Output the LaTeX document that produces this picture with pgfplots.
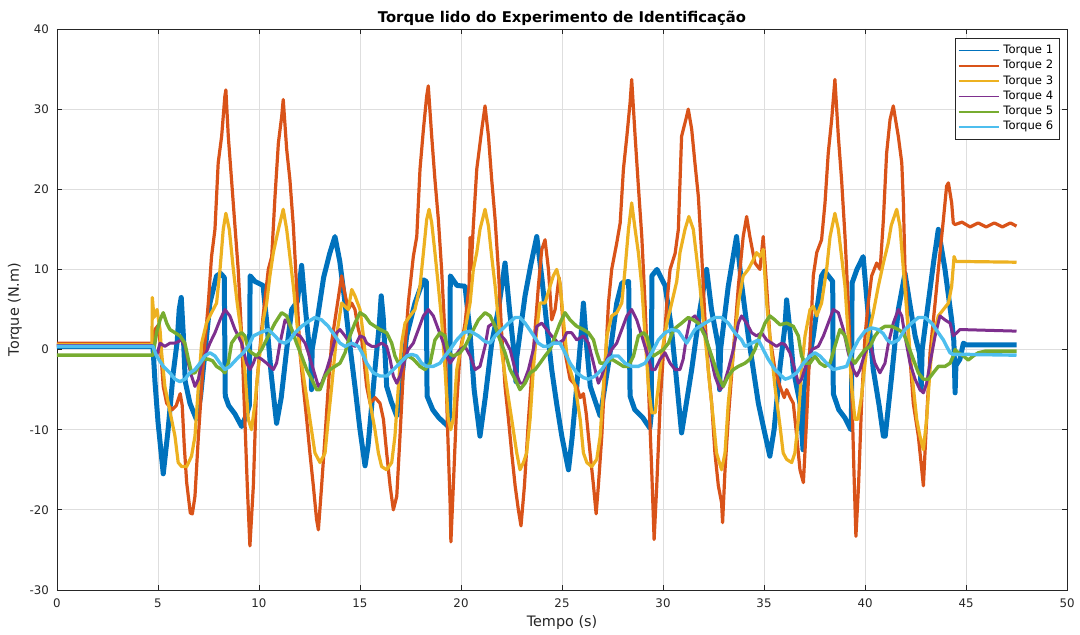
\documentclass[border=0pt]{standalone}
\usepackage{pgfplots}
\pgfplotsset{compat=1.18}
\usepackage{fontspec}
\setmainfont{DejaVu Sans}
\definecolor{tqA}{rgb}{0,0.447,0.741}
\definecolor{tqB}{rgb}{0.85,0.325,0.098}
\definecolor{tqC}{rgb}{0.929,0.694,0.125}
\definecolor{tqD}{rgb}{0.494,0.184,0.556}
\definecolor{tqE}{rgb}{0.466,0.674,0.188}
\definecolor{tqF}{rgb}{0.301,0.745,0.933}
\begin{document}
\begin{tikzpicture}
\useasboundingbox (-28.5pt,-22.5pt) rectangle (511.5pt,295pt);
\begin{axis}[
  at={(0pt,0pt)}, anchor=south west,
  scale only axis, width=505pt, height=280.5pt,
  xmin=0, xmax=50, ymin=-30, ymax=40,
  xtick={0,5,...,50}, ytick={-30,-20,...,40},
  /pgf/number format/assume math mode=true,
  tick label style={font=\fontsize{5.9}{7}\selectfont, text=black!85},
  xticklabel style={yshift=-1pt},
  yticklabel style={xshift=-0.5pt},
  major tick length=2.5pt,
  tick style={black!85, line width=0.4pt},
  axis line style={black!85, line width=0.4pt},
  grid=major, major grid style={black!13, line width=0.4pt},
  xlabel={Tempo (s)}, ylabel={Torque (N.m)},
  label style={font=\fontsize{7.2}{8}\selectfont, text=black!85},
  xlabel style={yshift=3pt},
  ylabel style={yshift=-3pt},
  title={Torque lido do Experimento de Identificação},
  title style={font=\bfseries\fontsize{7.4}{9}\selectfont, yshift=-8pt},
  legend style={at={(0.993,0.984)}, anchor=north east, draw=black!85, line width=0.4pt, fill=white,
    font=\fontsize{5.8}{7}\selectfont, row sep=-2.1pt, inner sep=1.2pt},
  legend cell align=left,
  legend image code/.code={\draw[#1, line width=0.8pt] (0pt,0pt) -- (20pt,0pt);},
  every axis plot/.append style={line join=round},
]
\addplot[color=tqA, line width=2.5pt] coordinates {
(0,0.4) (4.75,0.4) (4.85,-4) (5.0,-9) (5.26,-15.5) (5.5,-10) (5.75,-3) (5.95,1) (6.05,5) (6.15,6.5) (6.25,2) (6.35,-4) (6.58,-6.7) (6.9,-8.7) (7.1,-6) (7.24,-2.5) (7.57,5.8) (7.9,9.2) (8.1,9.5) (8.28,9) (8.33,-5.8) (8.5,-7) (8.8,-8) (9.14,-9.6) (9.4,-8) (9.52,-7) (9.56,9.2) (9.8,8.5) (10.2,8) (10.4,3) (10.6,-3) (10.87,-9.2) (11.1,-6) (11.37,0) (11.62,5) (11.9,6) (12.11,10.5) (12.3,5) (12.5,0) (12.58,-1.5) (12.6,-5) (12.63,0) (12.9,4) (13.2,9) (13.5,12) (13.76,14.1) (14.0,11) (14.26,5.8) (14.5,0.5) (14.75,-4.6) (15.0,-10) (15.25,-14.5) (15.4,-12) (15.74,-2.5) (15.95,3) (16.05,6.7) (16.15,4) (16.32,-4.6) (16.55,-6.5) (16.82,-8.3) (17.05,-4) (17.31,1.7) (17.72,5.8) (18.14,8.7) (18.28,8.5) (18.32,-5.8) (18.6,-7.5) (18.9,-8.5) (19.37,-9.6) (19.44,-8) (19.47,9.2) (19.8,8) (20.2,7.9) (20.45,2) (20.65,-5) (20.94,-10.8) (21.2,-6) (21.52,0.8) (21.85,5) (22.18,10.8) (22.4,5) (22.68,-1.7) (22.72,-4) (22.76,-1) (23.17,6.7) (23.45,10.5) (23.75,14.1) (24.0,9) (24.25,3) (24.49,-2.5) (24.75,-7) (24.99,-10.8) (25.32,-15) (25.5,-11) (25.73,-4.6) (25.95,2) (26.06,5.8) (26.2,1) (26.4,-4.6) (26.89,-8.3) (27.1,-5) (27.38,-0.4) (27.71,5.8) (27.96,8.3) (28.3,8.5) (28.37,-5.8) (28.6,-7.5) (29.0,-8.5) (29.35,-9.8) (29.42,-8) (29.45,9.2) (29.7,10) (30.1,8) (30.4,3) (30.6,-2) (30.92,-10.4) (31.2,-6) (31.42,-2.5) (31.83,5) (32.16,10) (32.4,5) (32.74,0.4) (32.8,-5) (32.85,0) (33.23,7.9) (33.64,14.1) (33.9,8) (34.22,1.7) (34.72,-6.7) (35.0,-10) (35.29,-13.3) (35.5,-10) (35.8,-2) (36.04,3) (36.12,6.2) (36.3,2) (36.45,-2.5) (36.78,-6.7) (36.93,-12.5) (36.98,-5) (37.44,1.7) (37.85,9.2) (38.0,9.8) (38.4,8.5) (38.43,-5.5) (38.7,-7.5) (39.0,-8.5) (39.3,-10) (39.33,-8) (39.36,8.3) (39.6,10) (39.91,11.6) (40.1,6) (40.41,-2.5) (40.7,-7) (40.91,-10.8) (41.0,-10.8) (41.32,-3.3) (41.65,5) (41.98,9.5) (42.2,6) (42.48,1.7) (42.7,-0.5) (42.78,-5) (42.83,0) (43.13,5.8) (43.4,11) (43.63,15) (43.96,10) (44.29,3.7) (44.4,1) (44.46,-5.4) (44.5,-2) (44.7,-1.2) (44.87,0.8) (45.0,0.6) (47.5,0.6)
};
\addlegendentry{Torque 1}
\addplot[color=tqB, line width=1.6pt] coordinates {
(0,0.8) (4.75,0.8) (4.85,2.5) (5.0,3) (5.1,1) (5.26,-4.6) (5.43,-6.7) (5.7,-7.5) (5.9,-7) (6.1,-5.5) (6.2,-7) (6.3,-12) (6.42,-16.6) (6.6,-20.4) (6.7,-20.5) (6.83,-18.3) (7.0,-10.8) (7.24,-1.7) (7.49,5.8) (7.65,11.6) (7.82,15) (7.98,23.3) (8.15,26.6) (8.31,31.6) (8.36,32.4) (8.48,26.6) (8.64,21.2) (8.81,15.4) (8.97,10) (9.14,1.7) (9.3,-8.7) (9.42,-17) (9.55,-24.5) (9.72,-17) (9.88,-4.6) (10.13,2.5) (10.46,10) (10.63,11.6) (10.79,19) (10.96,25.8) (11.12,29) (11.2,31.2) (11.37,25) (11.53,21.2) (11.7,15.4) (11.86,7.9) (12.03,-0.4) (12.19,-4.6) (12.36,-8.7) (12.52,-12.9) (12.69,-17) (12.85,-21.2) (12.94,-22.5) (13.1,-17) (13.27,-10.8) (13.43,-4.6) (13.6,1.0) (13.84,5) (14.09,9.2) (14.25,7) (14.42,5) (14.59,5.8) (14.75,5) (14.92,2.5) (15.1,1) (15.33,-4.6) (15.5,-6.7) (15.75,-6) (15.99,-6.7) (16.16,-8.7) (16.32,-12.9) (16.49,-17) (16.65,-20) (16.82,-18.3) (16.98,-10.8) (17.15,-2.5) (17.39,5.8) (17.64,11.6) (17.81,14.1) (17.97,22.5) (18.14,27.5) (18.3,31.6) (18.38,32.9) (18.55,26.6) (18.71,21.2) (18.88,16.2) (19.04,10) (19.21,1.7) (19.32,-8.7) (19.46,-19.1) (19.5,-24) (19.62,-17) (19.79,-6.7) (19.95,-0.4) (20.2,3.3) (20.4,8) (20.45,14) (20.5,10) (20.6,15) (20.78,22.5) (21.03,27.5) (21.19,30.4) (21.36,26.6) (21.52,21.2) (21.69,16.2) (21.85,10) (22.02,1.7) (22.18,-4.6) (22.35,-8.7) (22.51,-12.9) (22.68,-17) (22.84,-20) (22.97,-22) (23.14,-17) (23.34,-8.7) (23.58,-0.4) (23.83,7.9) (24.0,12.5) (24.16,13.7) (24.33,10) (24.49,3.7) (24.66,5) (24.85,9) (24.92,7.9) (25.15,-0.4) (25.4,-3.7) (25.73,-4.6) (25.9,-6) (26.06,-5.5) (26.2,-8) (26.39,-12.9) (26.56,-17) (26.69,-20.5) (26.8,-17) (26.97,-10.8) (27.13,-2.5) (27.3,5.8) (27.46,10) (27.71,13.3) (27.88,15.8) (28.04,22.5) (28.21,26.6) (28.37,30.8) (28.45,33.7) (28.62,26.6) (28.78,20.4) (28.95,14.1) (29.11,5.8) (29.28,-4.6) (29.44,-15) (29.56,-23.7) (29.69,-17) (29.86,-6.7) (30.02,-0.4) (30.19,5.8) (30.35,10) (30.6,12) (30.76,15) (30.92,26.6) (31.17,29.1) (31.25,30) (31.42,27.5) (31.58,23.3) (31.75,19.1) (31.91,12.1) (32.08,3.7) (32.24,-2.5) (32.41,-6.7) (32.57,-12.9) (32.74,-17) (32.9,-19.1) (32.95,-21.6) (33.07,-15) (33.23,-8.7) (33.48,-0.4) (33.73,7.9) (33.97,14.1) (34.14,16.6) (34.3,14.1) (34.55,10.8) (34.8,10) (34.96,14.1) (35.13,7.9) (35.29,1.7) (35.54,-2.5) (35.79,-4.6) (36.0,-6) (36.12,-5) (36.3,-6) (36.45,-6.7) (36.62,-10.8) (36.78,-15) (36.95,-16.6) (37.11,-8.7) (37.28,0.8) (37.44,9.2) (37.61,12.1) (37.85,13.7) (38.02,18.3) (38.18,24.5) (38.35,28.7) (38.51,33.7) (38.68,26.6) (38.84,21.2) (39.01,14.1) (39.17,5.8) (39.34,-4.6) (39.45,-15) (39.55,-23.3) (39.68,-17) (39.83,-6.7) (40.0,1.7) (40.16,5.8) (40.33,9.2) (40.58,10.8) (40.75,10) (40.91,16.2) (41.07,24.5) (41.24,28.7) (41.4,30.4) (41.65,26.6) (41.82,23.3) (41.9,18.3) (41.98,10) (42.15,1.7) (42.39,-6.7) (42.64,-10.8) (42.81,-15) (42.89,-17) (43.05,-8.7) (43.22,-0.4) (43.47,5.8) (43.63,10) (43.88,16.2) (44.04,20.4) (44.13,20.8) (44.29,18.3) (44.37,15.8) (44.46,15.6) (44.8,15.9) (45.2,15.3) (45.6,15.8) (46.0,15.3) (46.4,15.8) (46.8,15.3) (47.2,15.8) (47.5,15.4)
};
\addlegendentry{Torque 2}
\addplot[color=tqC, line width=1.6pt] coordinates {
(0,0.6) (4.7,0.6) (4.72,6.5) (4.8,4) (4.95,5) (5.1,2.5) (5.18,-0.4) (5.34,-4.6) (5.51,-6.7) (5.67,-8.7) (5.84,-10.8) (6.0,-14.1) (6.17,-14.6) (6.42,-14.6) (6.66,-13.3) (6.83,-10.8) (7.0,-4.6) (7.16,0.8) (7.4,3.3) (7.65,4.6) (7.9,5.8) (8.07,10) (8.23,15) (8.36,17) (8.53,15) (8.73,10) (8.92,5.8) (9.14,1.7) (9.3,-2.5) (9.47,-8.7) (9.63,-10) (9.8,-6.7) (9.96,-2.5) (10.21,3.7) (10.38,5.8) (10.54,9.2) (10.71,12.1) (10.96,15) (11.2,17.5) (11.37,15) (11.53,11.6) (11.7,7.9) (11.86,3.7) (12.03,-0.4) (12.28,-4.6) (12.52,-8.7) (12.77,-12.9) (13.02,-14.1) (13.27,-12.9) (13.43,-8.7) (13.6,-4.6) (13.84,1.7) (14.09,5.8) (14.42,5) (14.59,7.5) (14.75,6.7) (15.0,5) (15.17,1.7) (15.33,-2.5) (15.5,-6.7) (15.74,-10) (15.91,-12.9) (16.07,-14.6) (16.32,-15) (16.57,-14.1) (16.73,-10.8) (16.9,-4.6) (17.06,0.8) (17.23,3.3) (17.48,4.2) (17.72,5) (17.97,7.9) (18.14,12.1) (18.3,16.2) (18.42,17.5) (18.55,15.8) (18.71,12.1) (18.88,7.9) (19.04,3.7) (19.21,-2.5) (19.37,-8.7) (19.49,-10) (19.62,-8.7) (19.79,-2.5) (19.95,-0.4) (20.2,2.5) (20.45,5.8) (20.61,10) (20.78,12.1) (20.94,15) (21.19,17.5) (21.36,15.4) (21.52,11.6) (21.69,7.9) (21.85,3.7) (22.02,-0.4) (22.26,-4.6) (22.51,-8.7) (22.76,-12.9) (22.92,-15) (23.09,-14.1) (23.25,-12.9) (23.42,-8.7) (23.58,-2.5) (23.75,2.5) (23.91,5.8) (24.16,5.8) (24.41,7.9) (24.57,9.2) (24.74,10) (24.9,8.3) (25.07,3.7) (25.23,-0.4) (25.4,-2.5) (25.65,-4.6) (25.9,-8.7) (26.06,-12.9) (26.23,-14.1) (26.47,-14.6) (26.72,-13.7) (26.89,-10.8) (27.05,-4.6) (27.22,1.7) (27.46,4.2) (27.71,4.6) (27.96,5.8) (28.12,10) (28.29,15) (28.45,18.3) (28.62,15) (28.78,12.1) (28.95,7.9) (29.11,1.7) (29.28,-4.6) (29.44,-7.9) (29.61,-7.9) (29.77,-4.6) (29.94,-0.4) (30.19,3.3) (30.43,5.8) (30.68,8.5) (30.84,12.1) (31.09,15) (31.28,16.6) (31.5,15) (31.66,11.6) (31.83,7.9) (31.99,3.7) (32.16,-0.4) (32.32,-4.6) (32.49,-8.7) (32.65,-12.9) (32.9,-15) (33.07,-12.9) (33.23,-6.7) (33.48,-0.4) (33.73,5.8) (33.97,9.2) (34.22,10) (34.47,11.2) (34.63,12.1) (34.8,11.6) (34.96,12.5) (35.13,5.8) (35.29,1.7) (35.54,-4.6) (35.79,-9.5) (35.95,-12.9) (36.12,-13.7) (36.37,-14.1) (36.53,-12.9) (36.7,-8.7) (36.86,-2.5) (37.03,1.7) (37.28,5) (37.44,5.4) (37.61,4.2) (37.85,5.8) (38.1,10) (38.27,14.1) (38.51,17) (38.68,15) (38.84,11.6) (39.01,7.9) (39.17,1.7) (39.34,-4.6) (39.5,-8.7) (39.65,-8.7) (39.83,-5.8) (40.0,-1.7) (40.16,1.7) (40.41,4.6) (40.66,7.9) (40.91,10.8) (41.15,13.3) (41.3,15.5) (41.57,17.5) (41.73,15.4) (41.9,10) (42.06,5) (42.23,-0.4) (42.39,-4.6) (42.56,-8.7) (42.72,-10.8) (42.89,-12.5) (43.05,-8.7) (43.22,-2.5) (43.38,1.7) (43.63,4.2) (43.88,5) (44.13,5.8) (44.29,7.9) (44.41,11.6) (44.5,11) (47.5,10.9)
};
\addlegendentry{Torque 3}
\addplot[color=tqD, line width=1.5pt] coordinates {
(0,0.5) (4.75,0.5) (4.93,-0.8) (5.1,0.8) (5.34,0.4) (5.59,0.8) (5.84,0.8) (6.17,1.2) (6.33,0.4) (6.5,-1.7) (6.66,-3.3) (6.83,-4.6) (7.0,-3.7) (7.16,-1.7) (7.32,-0.8) (7.57,0.8) (7.82,2.1) (8.07,3.7) (8.31,5) (8.56,4.2) (8.81,2.5) (8.97,1.7) (9.14,0.8) (9.39,-1.7) (9.55,-2.5) (9.72,-1.7) (9.85,-0.8) (10.13,-1.2) (10.38,-1.7) (10.71,-2.5) (10.87,-1.7) (11.04,0.8) (11.29,3.7) (11.45,3.3) (11.7,2.1) (12.03,1.7) (12.28,0.8) (12.44,-0.4) (12.69,-2.5) (12.94,-4.6) (13.1,-4.2) (13.35,-2.5) (13.6,-0.4) (13.84,2.1) (14.01,2.5) (14.26,1.7) (14.5,0.8) (14.75,0.4) (15.0,1.7) (15.2,1.5) (15.33,0.8) (15.58,0.4) (15.8,0.4) (16.07,0.8) (16.32,0.4) (16.49,-1.2) (16.65,-3.3) (16.82,-4.2) (16.98,-3.3) (17.15,-1.7) (17.39,0) (17.64,0.8) (17.89,2.5) (18.14,4.2) (18.38,5) (18.63,4.2) (18.88,2.5) (19.13,0.8) (19.29,-0.8) (19.46,-1.7) (19.7,-0.8) (19.95,0) (20.2,0.4) (20.45,-0.8) (20.7,-2.5) (20.94,-2.1) (21.19,0.4) (21.36,2.9) (21.6,3.3) (21.85,2.1) (22.18,1.2) (22.43,0) (22.68,-2.5) (22.92,-4.2) (23.09,-4.2) (23.34,-2.5) (23.58,0) (23.75,2.9) (24.0,3.3) (24.24,2.5) (24.49,1.7) (24.82,0.8) (25.07,1.2) (25.23,2.1) (25.48,2.1) (25.73,1.2) (26.06,1.7) (26.31,0.8) (26.56,-1.7) (26.8,-4.2) (26.97,-3.3) (27.22,-1.2) (27.46,0) (27.71,0.8) (27.96,2.5) (28.21,4.2) (28.45,5) (28.7,3.7) (28.95,1.7) (29.2,-0.4) (29.44,-2.5) (29.61,-2.5) (29.86,-1.2) (30.1,-0.4) (30.35,-1.7) (30.6,-2.5) (30.84,-2.5) (31.0,-1.2) (31.17,1.7) (31.33,3.7) (31.58,4.2) (31.83,3.3) (32.08,2.1) (32.32,-0.4) (32.57,-3.3) (32.82,-5) (32.98,-4.6) (33.23,-2.5) (33.48,0) (33.73,3.3) (33.89,4.2) (34.14,3.3) (34.39,2.1) (34.63,1.7) (34.88,2.1) (35.13,1.2) (35.38,0.8) (35.62,0.4) (35.87,0.8) (36.05,0.6) (36.28,-0.4) (36.53,-2.5) (36.7,-4.2) (36.86,-3.7) (37.11,-1.7) (37.36,0) (37.69,0.4) (37.94,1.7) (38.18,3.3) (38.43,5) (38.68,4.6) (38.93,2.5) (39.17,-0.4) (39.42,-2.5) (39.59,-3.3) (39.75,-2.5) (40.0,-0.4) (40.25,0.8) (40.49,-1.7) (40.74,-2.9) (40.99,-1.7) (41.16,0.8) (41.4,3.3) (41.65,5) (41.82,4.2) (41.98,1.7) (42.23,-1.7) (42.48,-3.7) (42.72,-5) (42.89,-5.4) (43.05,-4.2) (43.22,-1.7) (43.47,1.7) (43.71,4.2) (43.96,3.7) (44.21,3.3) (44.37,1.7) (44.54,2.1) (44.7,2.5) (47.5,2.3)
};
\addlegendentry{Torque 4}
\addplot[color=tqE, line width=1.7pt] coordinates {
(0,-0.7) (4.75,-0.7) (4.93,2.1) (5.1,3.7) (5.26,4.6) (5.43,3.3) (5.59,2.5) (5.84,2.1) (6.09,1.7) (6.33,0.8) (6.5,-1.2) (6.66,-2.9) (6.83,-2.9) (7.0,-2.1) (7.24,-1.2) (7.49,-1.2) (7.7,-1.4) (7.9,-2.1) (8.15,-2.5) (8.31,-2.9) (8.48,-1.7) (8.64,0.8) (8.89,1.7) (9.14,2.1) (9.3,1.7) (9.47,0) (9.63,-0.4) (9.88,-0.8) (10.13,0) (10.46,1.7) (10.79,3.3) (11.12,4.6) (11.37,4.2) (11.62,2.5) (11.86,0.8) (12.11,-0.8) (12.36,-2.5) (12.61,-3.7) (12.85,-5) (13.02,-5) (13.27,-3.3) (13.51,-2.5) (13.76,-2.1) (14.01,-1.7) (14.26,-0.4) (14.5,1.7) (14.75,3.3) (15.0,4.6) (15.25,4.2) (15.5,3.3) (15.74,2.9) (15.99,2.5) (16.32,2.1) (16.57,0.8) (16.73,-0.8) (16.9,-1.7) (17.15,-1.2) (17.39,-0.8) (17.64,-1.2) (17.97,-2.1) (18.22,-2.5) (18.47,-1.7) (18.71,1.2) (18.96,2.1) (19.21,1.7) (19.37,-0.4) (19.62,-0.8) (19.95,-0.4) (20.2,0.4) (20.53,2.1) (20.86,3.7) (21.19,4.6) (21.44,4.2) (21.69,2.9) (21.93,1.2) (22.18,-0.4) (22.43,-2.5) (22.68,-3.7) (22.92,-5) (23.17,-4.2) (23.42,-2.9) (23.67,-2.5) (23.91,-1.7) (24.16,-0.8) (24.41,0) (24.66,1.7) (24.9,3.3) (25.15,4.6) (25.4,3.7) (25.73,2.9) (26.06,2.5) (26.31,2.1) (26.56,1.2) (26.72,-0.4) (26.89,-1.7) (27.13,-1.7) (27.46,-1.2) (27.79,-1.7) (28.04,-2.1) (28.29,-2.1) (28.54,-0.8) (28.78,1.7) (29.03,2.1) (29.2,1.7) (29.36,0) (29.53,-0.8) (29.77,-0.4) (30.02,0) (30.27,0.8) (30.52,2.5) (30.92,3.3) (31.25,4) (31.5,3.7) (31.75,3.3) (32.08,1.7) (32.41,-0.8) (32.74,-3.3) (32.98,-4.6) (33.23,-3.3) (33.48,-2.5) (33.73,-2.1) (34.06,-1.7) (34.3,-1.2) (34.55,0) (34.8,1.7) (35.05,3.3) (35.29,4.2) (35.54,3.7) (35.79,3.1) (36.12,3.3) (36.45,2.9) (36.7,1.7) (36.86,-0.8) (37.03,-1.7) (37.28,-1.7) (37.52,-0.8) (37.77,-1.7) (38.02,-2.1) (38.27,-1.7) (38.51,0.4) (38.76,2.5) (39.01,1.7) (39.26,-0.8) (39.5,-1.7) (39.75,-0.8) (40.0,0) (40.25,0.4) (40.49,1.7) (40.74,2.5) (40.99,2.9) (41.32,2.9) (41.65,2.5) (41.9,2.1) (42.15,0.4) (42.39,-1.2) (42.64,-2.9) (42.89,-3.7) (43.14,-3.7) (43.38,-2.9) (43.63,-2.1) (43.96,-2.1) (44.21,-1.7) (44.37,-0.8) (44.46,0) (44.62,-0.4) (44.87,-0.8) (45.11,-1.3) (45.36,-0.8) (45.61,-0.4) (45.94,-0.2) (47.5,-0.2)
};
\addlegendentry{Torque 5}
\addplot[color=tqF, line width=1.7pt] coordinates {
(0,0.4) (4.75,0.4) (4.93,-0.8) (5.26,-2.1) (5.59,-2.9) (5.84,-3.7) (6.09,-4.0) (6.33,-3.7) (6.58,-2.9) (6.83,-2.5) (7.08,-1.7) (7.32,-0.8) (7.57,-0.4) (7.82,-0.8) (8.07,-1.7) (8.31,-2.5) (8.56,-2.1) (8.89,-1.2) (9.22,-0.4) (9.47,0.4) (9.72,1.7) (10.05,2.1) (10.46,2.5) (10.79,1.7) (11.04,1.0) (11.29,0.8) (11.53,1.2) (11.78,2.1) (12.11,2.9) (12.44,3.5) (12.77,4.0) (13.1,3.7) (13.43,2.9) (13.76,1.7) (14.01,0.8) (14.26,0.4) (14.59,0.8) (14.92,0.4) (15.1,-0.4) (15.33,-1.7) (15.66,-2.9) (15.99,-3.3) (16.32,-3.3) (16.65,-2.5) (16.98,-1.7) (17.31,-0.8) (17.56,-0.6) (17.81,-0.8) (18.05,-1.7) (18.3,-2.1) (18.63,-2.1) (18.96,-1.7) (19.21,-0.8) (19.46,0) (19.79,1.2) (20.12,2.1) (20.45,2.3) (20.86,1.7) (21.19,1.0) (21.44,0.8) (21.69,1.7) (22.02,2.5) (22.35,3.3) (22.68,4.0) (22.92,4.0) (23.17,3.3) (23.5,2.1) (23.83,0.8) (24.08,0.4) (24.33,0.4) (24.57,0.8) (24.9,0.8) (25.15,-0.4) (25.4,-1.7) (25.73,-2.9) (26.06,-3.5) (26.31,-3.7) (26.64,-3.3) (26.97,-2.5) (27.3,-1.2) (27.55,-0.8) (27.79,-0.8) (28.12,-1.7) (28.45,-2.1) (28.78,-2.1) (29.11,-1.7) (29.44,-0.4) (29.77,1.2) (30.1,2.1) (30.43,2.5) (30.76,2.3) (31.17,0.8) (31.58,2.5) (32.08,3.3) (32.57,4.0) (32.9,4.0) (33.23,3.3) (33.56,2.1) (33.89,1.2) (34.06,0.4) (34.39,0.8) (34.72,1.2) (34.96,0) (35.21,-1.2) (35.54,-2.5) (35.87,-3.3) (36.04,-3.7) (36.28,-3.5) (36.62,-2.9) (36.95,-1.7) (37.28,-0.8) (37.52,-0.4) (37.77,-0.8) (38.1,-1.7) (38.43,-2.5) (38.76,-2.3) (39.09,-2.1) (39.34,-0.4) (39.67,1.2) (40.0,2.3) (40.33,2.7) (40.66,2.5) (40.9,2.0) (41.1,1.2) (41.32,0.8) (41.65,1.2) (41.98,2.5) (42.31,3.3) (42.64,4.0) (42.97,4.0) (43.3,3.3) (43.63,2.1) (43.88,1.2) (44.04,0.4) (44.21,-0.4) (44.37,-0.6) (44.95,-0.6) (47.5,-0.7)
};
\addlegendentry{Torque 6}
\end{axis}
\end{tikzpicture}
\end{document}
